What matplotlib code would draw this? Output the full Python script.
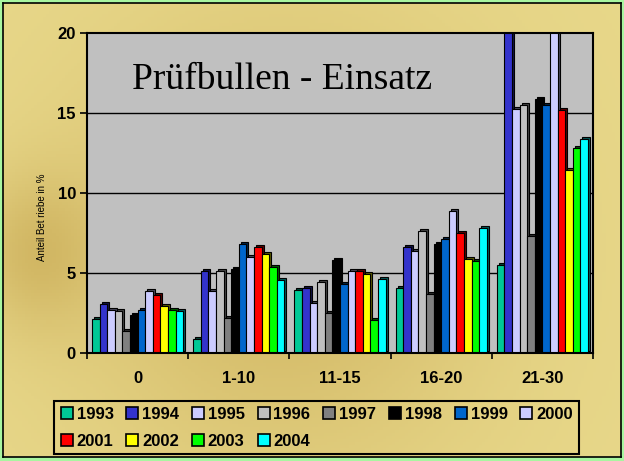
import numpy as np
import matplotlib.pyplot as plt
import matplotlib.transforms as mtransforms
from matplotlib.lines import Line2D
from matplotlib.colors import to_rgb

plt.rcParams['font.family'] = ['Liberation Sans', 'DejaVu Sans']

categories = ['0', '1-10', '11-15', '16-20', '21-30']
years = ['1993', '1994', '1995', '1996', '1997', '1998',
         '1999', '2000', '2001', '2002', '2003', '2004']
colors = ['#00c896', '#3333cc', '#ccccff', '#c0c0c0', '#808080', '#000000',
          '#0066cc', '#ccccff', '#ff0000', '#ffff00', '#00ff00', '#00ffff']

# share of farms in % per category, one list per year
v1993 = [2.1, 0.9, 3.95, 4.05, 5.5]
v1994 = [3.05, 5.15, 4.05, 6.6, 21.0]
v1995 = [2.7, 3.9, 3.1, 6.4, 15.25]
v1996 = [2.6, 5.1, 4.45, 7.6, 15.5]
v1997 = [1.35, 2.2, 2.5, 3.7, 7.3]
v1998 = [2.35, 5.25, 5.8, 6.8, 15.85]
v1999 = [2.7, 6.8, 4.3, 7.1, 15.5]
v2000 = [3.9, 6.0, 5.15, 8.85, 21.0]
v2001 = [3.6, 6.6, 5.15, 7.5, 15.2]
v2002 = [2.95, 6.2, 4.95, 5.85, 11.45]
v2003 = [2.7, 5.35, 2.05, 5.75, 12.8]
v2004 = [2.6, 4.55, 4.65, 7.8, 13.4]
values = [v1993, v1994, v1995, v1996, v1997, v1998,
          v1999, v2000, v2001, v2002, v2003, v2004]

fig = plt.figure(figsize=(6.24, 4.61), dpi=100)
fig.patch.set_facecolor('#a8f5a0')

# gold background
bg = fig.add_axes([3/624, 4/461, 618/624, 454/461])
gx, gy = np.meshgrid(np.linspace(0, 1, 200), np.linspace(0, 1, 150))
light = np.array(to_rgb('#e8d88a'))
dark = np.array(to_rgb('#c6a650'))
f = np.clip(0.6 * np.exp(-((gx - 0.45) ** 2) / 0.12 - ((gy - 0.55) ** 2) / 0.25)
            + 0.5 * np.exp(-((gx - 0.05) ** 2) / 0.01 - ((gy - 0.55) ** 2) / 0.03), 0, 1)
img = light[None, None, :] * (1 - f[..., None]) + dark[None, None, :] * f[..., None]
bg.imshow(img, aspect='auto', extent=[0, 1, 0, 1])
bg.set_xticks([])
bg.set_yticks([])
for s in bg.spines.values():
    s.set_color('black')
    s.set_linewidth(1.2)

ax = fig.add_axes([87/624, 1 - 353/461, 506/624, 320/461])
ax.set_facecolor('#c0c0c0')

x = np.arange(len(categories))
w = 0.9 / len(years)
shift = mtransforms.ScaledTranslation(0.02, 0.02, fig.dpi_scale_trans)
for i, (vals, c) in enumerate(zip(values, colors)):
    pos = x + (i - 5.5) * w
    side = np.array(to_rgb(c)) * 0.35
    ax.bar(pos, vals, w, color=side, edgecolor='black', linewidth=0.8,
           transform=ax.transData + shift, zorder=2 + i * 0.01)
    ax.bar(pos, vals, w, color=c, edgecolor='black', linewidth=0.8,
           zorder=3 + i * 0.01)

ax.set_xlim(-0.5, len(categories) - 0.5)
ax.set_ylim(0, 20)
ax.set_yticks([0, 5, 10, 15, 20])
for g in [5, 10, 15]:
    ax.axhline(g, color='black', linewidth=1, zorder=1)
ax.set_xticks(x)
ax.set_xticklabels(categories, fontsize=12, fontweight='bold')
ax.set_xticks(np.arange(-0.5, len(categories)), minor=True)
ax.tick_params(axis='x', which='major', length=0, pad=13)
ax.tick_params(axis='x', which='minor', length=4, width=1.2)
ax.tick_params(axis='y', length=5, width=1.2, pad=3, labelsize=12)
for t in ax.get_yticklabels():
    t.set_fontweight('bold')
for s in ax.spines.values():
    s.set_linewidth(1.5)
    s.set_zorder(5)

ax.text(0.089, 0.855, 'Prüfbullen - Einsatz', transform=ax.transAxes,
        ha='left', va='center', fontsize=27, family='Liberation Serif', zorder=6)

fig.text(42/624, 1 - 217/461, 'Anteil Bet riebe in %', rotation=90,
         ha='center', va='center', fontsize=7)

# row-major order for the two legend rows
order = [0, 8, 1, 9, 2, 10, 3, 11, 4, 5, 6, 7]
handles = [Line2D([], [], marker='s', ls='', markersize=8.5, markerfacecolor=colors[k],
                  markeredgecolor='black', markeredgewidth=1.2) for k in order]
labels = [years[k] for k in order]
leg = fig.legend(handles, labels, loc='upper left', ncol=8,
                 bbox_to_anchor=(54/624, 1 - 401/461),
                 prop={'size': 12, 'weight': 'bold'},
                 handlelength=0.8, handletextpad=0.2, columnspacing=0.72,
                 labelspacing=0.7, borderpad=0.35, borderaxespad=0,
                 fancybox=False, framealpha=1)
leg.get_frame().set_facecolor('none')
leg.get_frame().set_edgecolor('black')
leg.get_frame().set_linewidth(1.5)

fig.savefig('out.png', dpi=100)
